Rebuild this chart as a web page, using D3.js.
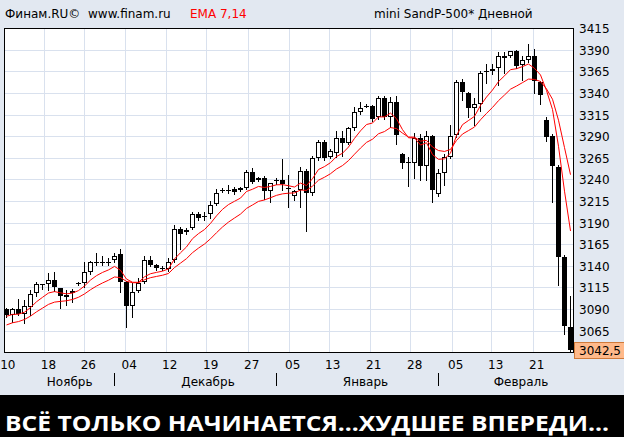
<!DOCTYPE html>
<html><head><meta charset="utf-8">
<script src="https://cdnjs.cloudflare.com/ajax/libs/d3/7.8.5/d3.min.js"></script>
<style>html,body{margin:0;padding:0;background:#e2e8f1;overflow:hidden}</style>
</head><body><svg id="c" width="624" height="437"></svg>
<script>
// ---- data ----
const open  = [3090,3083,3091,3085,3093,3109,3119,3120,3124,3114.5,3106.5,3108.5,3120,3121,3133.5,3144,3144.5,3144,3147,3154,3122,3094,3111.5,3122,3147.5,3141.5,3138,3137,3147,3183,3180,3184,3200.5,3198.5,3200.5,3212,3228,3228.5,3229,3228.3,3231,3249.5,3240,3242,3227.5,3239.5,3240,3231,3221.5,3228,3250,3224.5,3265,3284,3266.5,3271,3288,3283,3300,3319,3325.5,3325.5,3312.5,3334.5,3313,3330.5,3270,3261,3259,3288,3255.5,3291,3223.5,3248.5,3267,3291.5,3353,3340.5,3323,3328,3366,3365.5,3369,3383,3383,3389,3372.5,3379,3383,3353,3309.5,3291,3255,3151,3070];
const high  = [3092,3092,3102,3101,3113,3122,3120,3132,3133,3115,3112,3114,3122,3145,3146.5,3155,3152,3150,3155,3159.5,3122.5,3121,3126,3152,3152,3143,3140,3150,3188,3185,3184.5,3203,3203,3202.5,3215,3229.5,3231,3234,3232,3231.5,3251.5,3253.5,3243,3244.5,3236.5,3242,3264,3246,3228,3255,3252,3268,3286,3286,3276,3296,3296,3301.5,3324,3330.5,3328,3327,3336.5,3337.5,3336,3337.5,3271,3266,3294,3293,3297,3292,3252,3270,3304,3356,3357,3342,3335,3366,3374,3374,3388,3388,3389.5,3390,3383,3397,3391,3354,3312.5,3293,3257,3153,3105];
const low   = [3081,3076,3083,3074,3084,3105,3114,3112,3111,3092,3095,3099,3118,3116,3131,3141.5,3142,3142,3145,3110.5,3070,3081,3110,3121,3140,3136,3136,3135,3144.5,3159.5,3177.5,3183,3193,3193.5,3195.5,3211,3226,3225,3224,3227.5,3229,3236,3239,3217.5,3214,3235,3228,3208,3217,3208,3181,3222,3263,3263,3265,3266,3268,3282,3298,3316,3324,3308,3311,3311,3301.5,3281,3253.5,3233,3242,3240,3240,3214,3221,3234,3265,3290,3333,3312.5,3304,3319.5,3352,3363,3349.5,3364,3382,3370,3356,3376.5,3340.5,3328,3285,3214.5,3118,3061.5,3041];
const close = [3083,3091,3085,3094,3108,3119,3119.5,3124,3115.5,3105,3104.5,3111.5,3120.5,3133,3144.5,3144.5,3144,3144.5,3152,3122,3094.5,3110.5,3121,3147,3142,3137.5,3138.5,3145,3183,3177,3182.5,3200.5,3195.5,3196.5,3211,3224.5,3228.5,3228,3226.5,3230,3249.5,3237,3242,3227.5,3236,3240,3235,3229.5,3227,3250,3225,3265,3284,3265.5,3273.5,3288,3282.5,3299.5,3318,3323,3326,3311,3334.5,3312.5,3330.5,3291.5,3260,3260.5,3288,3255.5,3291,3228,3247.5,3266,3290.5,3353,3341.5,3323,3328,3364,3365,3368.5,3383,3380.5,3389,3372,3378.5,3383,3354,3338.5,3289.5,3255.5,3151,3071,3042.5];
const priceTicks = [3065,3090,3115,3140,3165,3190,3215,3240,3265,3290,3315,3340,3365,3390,3415];
const dayLabels  = ["10","18","26","04","12","19","27","05","13","21","28","05","13","21"];
const dayGridPos = [-0.23,6.55,13.18,20.0,26.75,33.58,40.42,47.25,53.92,60.75,67.58,74.42,81.08,87.92];
const monthLabels = ["Ноябрь","Декабрь","Январь","Февраль"];
const monthLabelPos = [10.53,33.58,59.83,85.75];
const monthSepPos = [18,45,72];
const emaPeriods = [7,14];
const emaSeeds = [3082,3072];
const lastPrice = 3042.5;

// ---- drawing ----
const svg = d3.select("#c");
const L=4, T=28, R=573, B=352;
const n = close.length;
const x = d3.scaleLinear().domain([0, n-1]).range([6.5, 6.5 + 6*(n-1)]);
const y = d3.scaleLinear().domain([3040.7, 3415.8]).range([352, 28]);
const font = "DejaVu Sans, Verdana, sans-serif";
const px = v => Math.floor(v) + 0.5;

svg.append("rect").attr("width",624).attr("height",437).attr("fill","#e2e8f1");
svg.append("rect").attr("x",L).attr("y",T).attr("width",R-L).attr("height",B-T).attr("fill","#fff");

const defs = svg.append("defs");
defs.append("clipPath").attr("id","plot").append("rect")
  .attr("x",L+1).attr("y",T+1).attr("width",R-L-1).attr("height",B-T-1);

const g = svg.append("g").attr("clip-path","url(#plot)");
// grid
g.selectAll(".hg").data(priceTicks).join("line")
  .attr("x1",L).attr("x2",R).attr("y1",d=>px(y(d))).attr("y2",d=>px(y(d)))
  .attr("stroke","#d9e1ee").attr("stroke-width",1);
g.selectAll(".vg").data(dayGridPos).join("line")
  .attr("x1",d=>px(x(d)-1)).attr("x2",d=>px(x(d)-1)).attr("y1",T).attr("y2",B)
  .attr("stroke","#d9e1ee").attr("stroke-width",1);

// candles
const idx = d3.range(n);
const cg = g.append("g");
cg.selectAll(".wick").data(idx).join("line")
  .attr("x1",i=>x(i)).attr("x2",i=>x(i))
  .attr("y1",i=>Math.round(y(high[i]))).attr("y2",i=>Math.round(y(low[i]))+1)
  .attr("stroke","#000").attr("stroke-width",1);
idx.forEach(i=>{
  const top = Math.round(y(Math.max(open[i],close[i])));
  const bot = Math.round(y(Math.min(open[i],close[i])));
  const c = x(i);
  if (bot - top < 2) {
    cg.append("line").attr("x1",c-2.5).attr("x2",c+2.5)
      .attr("y1",top+0.5).attr("y2",top+0.5).attr("stroke","#000");
  } else {
    cg.append("rect").attr("x",c-2).attr("y",top+0.5).attr("width",4).attr("height",bot-top-1)
      .attr("fill", close[i] >= open[i] ? "#fff" : "#000").attr("stroke","#000").attr("stroke-width",1);
  }
});

// EMA lines
emaPeriods.forEach((p,k)=>{
  const a = 2/(p+1);
  const ema = [];
  close.forEach((c,i)=>{ ema.push(i===0 ? emaSeeds[k] : ema[i-1] + a*(c-ema[i-1])); });
  g.append("path").datum(ema)
    .attr("d", d3.line().x((d,i)=>x(i)).y(d=>y(d)))
    .attr("fill","none").attr("stroke","#ff0000").attr("stroke-width",1);
});

// frame
svg.append("rect").attr("x",L+0.5).attr("y",T+0.5).attr("width",R-L).attr("height",B-T)
  .attr("fill","none").attr("stroke","#000").attr("stroke-width",1);

// right axis
svg.selectAll(".yl").data(priceTicks).join("text")
  .attr("x",579).attr("y",d=>y(d)+4.5).text(d=>d)
  .attr("font-family",font).attr("font-size",12).attr("fill","#000");

// last price
svg.append("rect").attr("x",574.5).attr("y",342.5).attr("width",50).attr("height",16)
  .attr("fill","#ffb98a").attr("stroke","#d07a3a").attr("stroke-width",1);
svg.append("text").attr("x",579).attr("y",355).text(String(lastPrice).replace(".",","))
  .attr("font-family",font).attr("font-size",12).attr("fill","#000");

// bottom axis
svg.selectAll(".dl").data(dayLabels).join("text")
  .attr("x",(d,i)=>x(dayGridPos[i])+2.7).attr("y",368.5).attr("text-anchor","middle").text(d=>d)
  .attr("font-family",font).attr("font-size",12).attr("fill","#000");
svg.selectAll(".ml").data(monthLabels).join("text")
  .attr("x",(d,i)=>x(monthLabelPos[i])).attr("y",385.5).attr("text-anchor","middle").text(d=>d)
  .attr("font-family",font).attr("font-size",12).attr("fill","#000");
svg.selectAll(".ms").data(monthSepPos).join("line")
  .attr("x1",d=>px(x(d))).attr("x2",d=>px(x(d))).attr("y1",373).attr("y2",386)
  .attr("stroke","#000").attr("stroke-width",1);

// header
const hdr = [["Финам.RU©",5,"#000"],["www.finam.ru",88,"#000"],["EMA 7,14",190,"#ff0000"],["mini SandP-500* Дневной",374,"#000"]];
svg.selectAll(".hd").data(hdr).join("text")
  .attr("x",d=>d[1]).attr("y",18).text(d=>d[0]).attr("fill",d=>d[2])
  .attr("font-family",font).attr("font-size",12);

// banner
svg.append("rect").attr("x",0).attr("y",395).attr("width",624).attr("height",42).attr("fill","#000");
svg.append("text").attr("x",5).attr("y",431).text("ВСЁ ТОЛЬКО НАЧИНАЕТСЯ...ХУДШЕЕ ВПЕРЕДИ...")
  .attr("font-family","Open Sans, DejaVu Sans, sans-serif").attr("font-weight","bold").attr("font-size",22)
  .attr("textLength",604).attr("lengthAdjust","spacingAndGlyphs").attr("fill","#fff");
</script></body></html>
